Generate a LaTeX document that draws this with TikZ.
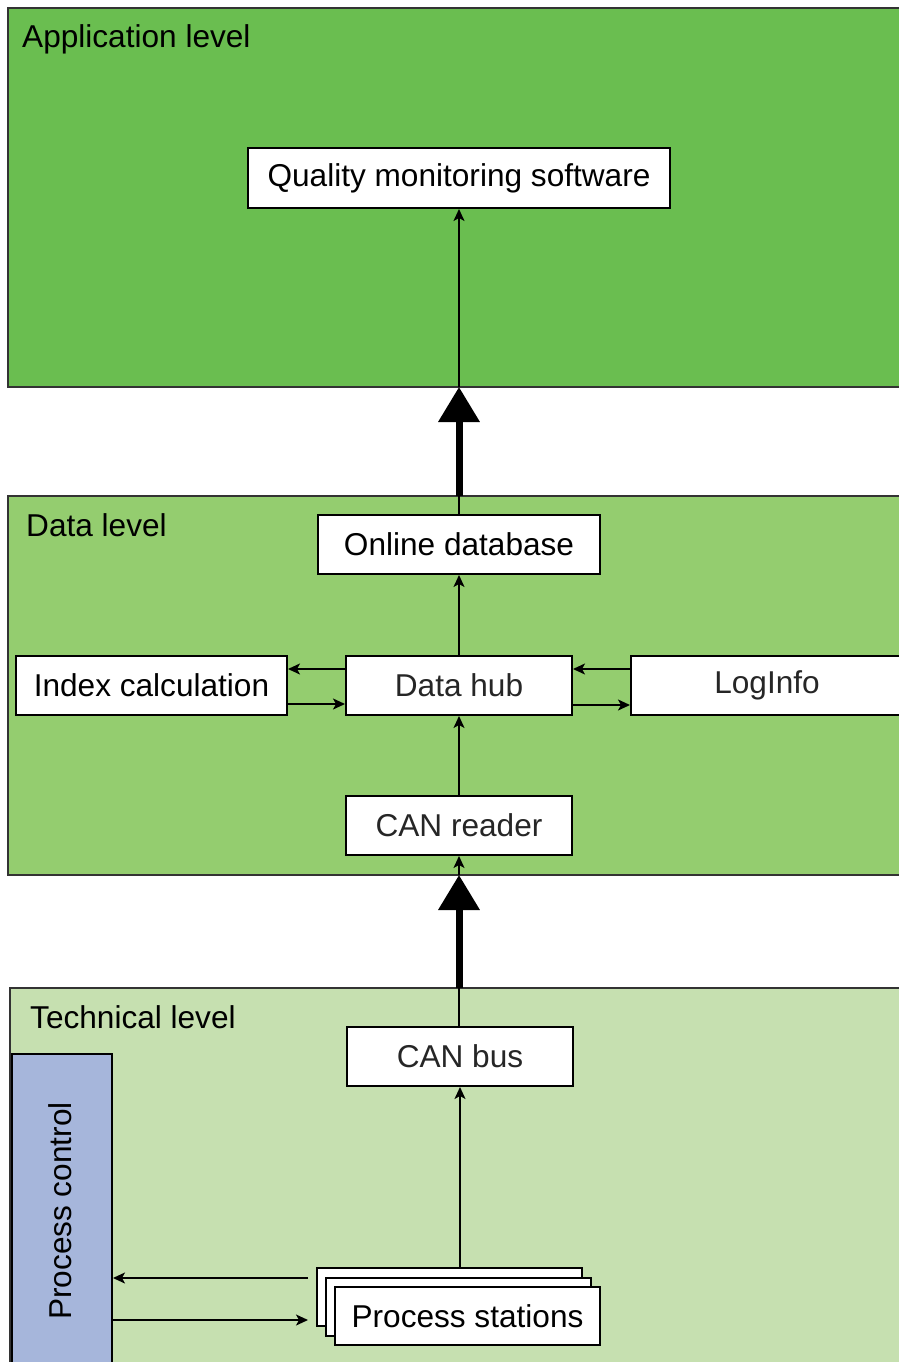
\documentclass[tikz,border=0pt]{standalone}
\usepackage{fontspec}
\setmainfont{Liberation Sans}
\usetikzlibrary{arrows.meta}
\definecolor{appgreen}{HTML}{6ABE50}
\definecolor{datagreen}{HTML}{94CD6F}
\definecolor{techgreen}{HTML}{C6E0B0}
\definecolor{pcblue}{HTML}{A6B6DB}
\definecolor{txtgray}{HTML}{262626}
\begin{document}
\begin{tikzpicture}[x=1pt,y=-1pt,
  panel/.style={draw=black!80,line width=1.5pt},
  box/.style={draw=black,line width=2pt,fill=white,inner sep=0pt,font=\fontsize{31.6}{36}\selectfont},
  lbl/.style={anchor=base west,inner sep=0pt,font=\fontsize{31.6}{36}\selectfont},
  arr/.style={line width=1.6pt,-{Stealth[length=12pt,width=11pt,inset=3pt]}},
  plain/.style={line width=1.6pt},
  big/.style={line width=7pt,-{Triangle[width=40pt,length=35pt]}}]
\useasboundingbox (0,0) rectangle (899,1362);
\clip (0,0) rectangle (899,1362);
% panels
\path[panel,fill=appgreen] (8,8) rectangle (920,387);
\path[panel,fill=datagreen] (8,496) rectangle (920,875);
\path[panel,fill=techgreen] (10,988) rectangle (920,1380);
\node[lbl] (lapp) at (22,48) {Application level};
\node[lbl] (ldata) at (26,536) {Data level};
\node[lbl] (ltech) at (30,1028) {Technical level};
% nodes
\node[box,minimum width=422pt,minimum height=60pt] (qms) at (459,178) {Quality monitoring software};
\node[box,minimum width=282pt,minimum height=59pt] (db) at (459,544.5) {Online database};
\node[box,minimum width=226pt,minimum height=59pt,text=txtgray] (hub) at (459,685.5) {Data hub};
\node[box,minimum width=271pt,minimum height=59pt] (idx) at (151.5,685.5) {Index calculation};
\node[box,minimum width=272pt,minimum height=59pt,text=txtgray] (log) at (767,685.5) {LogInfo};
\node[box,minimum width=226pt,minimum height=59pt,text=txtgray] (canr) at (459,825.5) {CAN reader};
\node[box,minimum width=226pt,minimum height=59pt,text=txtgray] (canb) at (460,1056.5) {CAN bus};
\node[draw=black,line width=2pt,fill=pcblue,minimum width=100pt,minimum height=320pt,inner sep=0pt] (pc) at (62,1214) {};
\node[rotate=90,font=\fontsize{31.6}{36}\selectfont,inner sep=0pt] (pct) at (60,1211) {Process control};
\node[draw=black,line width=2pt,fill=white,minimum width=265pt,minimum height=58pt] (ps1) at (449.5,1297) {};
\node[draw=black,line width=2pt,fill=white,minimum width=265pt,minimum height=58pt] (ps2) at (458.5,1306.5) {};
\node[box,minimum width=265pt,minimum height=58pt] (ps3) at (467.5,1316) {Process stations};
% connectors
\coordinate (dtop) at (459,496);
\coordinate (abot) at (459,387);
\coordinate (ttop) at (459,988);
\coordinate (dbot) at (459,875);
\draw[plain] (db.north) -- (dtop);
\draw[big] (dtop) -- (abot);
\draw[arr] (abot) -- (qms.south);
\draw[arr] (hub.north) -- (db.south);
\draw[arr] (canr.north) -- (hub.south);
\draw[arr] ([yshift=16.5pt]hub.west) -- ([yshift=16.5pt]idx.east);
\draw[arr] ([yshift=-18.5pt]idx.east) -- ([yshift=-18.5pt]hub.west);
\draw[arr] ([yshift=16.5pt]log.west) -- ([yshift=16.5pt]hub.east);
\draw[arr] ([yshift=-19.5pt]hub.east) -- ([yshift=-19.5pt]log.west);
\draw[plain] (ttop |- canb.north) -- (ttop);
\draw[big] (ttop) -- (dbot);
\draw[arr] (dbot) -- (canr.south);
\draw[arr] (canb.south |- ps1.north) -- (canb.south);
\coordinate (p1) at (308,1278);
\coordinate (p2) at (308,1320);
\draw[arr] (p1) -- (p1 -| pc.east);
\draw[arr] (p2 -| pc.east) -- (p2);
\end{tikzpicture}
\end{document}
